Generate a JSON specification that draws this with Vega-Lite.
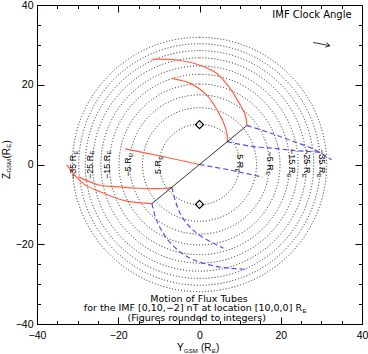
{
 "$schema": "https://vega.github.io/schema/vega-lite/v6.json",
 "width": 325, "height": 319,
 "autosize": {"type": "none"},
 "padding": {"left": 37, "top": 5, "right": 6, "bottom": 30},
 "background": "white",
 "config": {"view": {"stroke": "#000", "strokeWidth": 1}, "font": "Liberation Sans",
   "axis": {"domain": false, "grid": false, "tickColor": "#000", "labelColor": "#000", "labelFont": "Liberation Sans", "labelFontSize": 10.5, "tickWidth": 1, "labelFlush": false, "labelOverlap": false}},
 "datasets": {
  "circles": [{"r":10},{"r":14.1},{"r":17.3},{"r":20},{"r":22.4},{"r":24.5},{"r":26.5},{"r":28.3},{"r":30},{"r":31.6}],
  "red": [
   {"c":"A","i":0,"x":11.7,"y":9.8},{"c":"A","i":1,"x":11.2,"y":12.6},{"c":"A","i":2,"x":10.0,"y":15.0},{"c":"A","i":3,"x":7.5,"y":19.1},{"c":"A","i":4,"x":4.2,"y":22.9},{"c":"A","i":5,"x":0.1,"y":24.9},{"c":"A","i":6,"x":-5.6,"y":26.2},{"c":"A","i":7,"x":-11.8,"y":26.4},
   {"c":"B","i":0,"x":6.83,"y":5.72},{"c":"B","i":1,"x":6.85,"y":7.0},{"c":"B","i":2,"x":6.3,"y":9.5},{"c":"B","i":3,"x":4.6,"y":13.2},{"c":"B","i":4,"x":1.8,"y":17.4},{"c":"B","i":5,"x":-2.3,"y":20.35},{"c":"B","i":6,"x":-6.85,"y":21.6},
   {"c":"O","i":0,"x":0,"y":0},{"c":"O","i":1,"x":-9.1,"y":2.0},{"c":"O","i":2,"x":-18.3,"y":3.9},
   {"c":"C","i":0,"x":-6.83,"y":-5.72},{"c":"C","i":1,"x":-8.1,"y":-5.95},{"c":"C","i":2,"x":-12.2,"y":-6.05},{"c":"C","i":3,"x":-16.3,"y":-5.9},{"c":"C","i":4,"x":-19.6,"y":-5.6},{"c":"C","i":5,"x":-24.5,"y":-5.2},{"c":"C","i":6,"x":-29.8,"y":-3.1},
   {"c":"D","i":0,"x":-11.7,"y":-9.8},{"c":"D","i":1,"x":-17.9,"y":-9.2},{"c":"D","i":2,"x":-24.3,"y":-6.9},{"c":"D","i":3,"x":-28.6,"y":-4.8},{"c":"D","i":4,"x":-32.7,"y":-0.1}
  ],
  "blue": [
   {"c":"A","i":0,"x":11.7,"y":9.8},{"c":"A","i":1,"x":17.4,"y":7.9},{"c":"A","i":2,"x":22.3,"y":6.1},{"c":"A","i":3,"x":28.0,"y":3.9},{"c":"A","i":4,"x":32.5,"y":1.2},
   {"c":"B","i":0,"x":6.83,"y":5.72},{"c":"B","i":1,"x":12.4,"y":4.6},{"c":"B","i":2,"x":17.9,"y":4.1},{"c":"B","i":3,"x":23.5,"y":3.5},{"c":"B","i":4,"x":29.5,"y":3.1},
   {"c":"O","i":0,"x":0,"y":0},{"c":"O","i":1,"x":8,"y":-1.5},{"c":"O","i":2,"x":15.6,"y":-3.2},
   {"c":"C","i":0,"x":-6.83,"y":-5.72},{"c":"C","i":1,"x":-6.0,"y":-8.9},{"c":"C","i":2,"x":-4.8,"y":-12.2},{"c":"C","i":3,"x":-3.2,"y":-14.7},{"c":"C","i":4,"x":-0.7,"y":-17.2},{"c":"C","i":5,"x":2.6,"y":-19.3},{"c":"C","i":6,"x":5.9,"y":-21.0},
   {"c":"D","i":0,"x":-11.7,"y":-9.8},{"c":"D","i":1,"x":-10.6,"y":-13.9},{"c":"D","i":2,"x":-8.1,"y":-18.5},{"c":"D","i":3,"x":-4.8,"y":-21.9},{"c":"D","i":4,"x":-1.5,"y":-23.9},{"c":"D","i":5,"x":3.4,"y":-25.4},{"c":"D","i":6,"x":7.5,"y":-26.0},{"c":"D","i":7,"x":11.6,"y":-26.3}
  ],
  "black": [
   {"c":"L","i":0,"x":-11.7,"y":-9.8},{"c":"L","i":1,"x":11.7,"y":9.8},
   {"c":"S","i":0,"x":28.0,"y":30.6},{"c":"S","i":1,"x":32.1,"y":29.8},
   {"c":"H","i":0,"x":30.97,"y":29.41},{"c":"H","i":1,"x":32.1,"y":29.8},{"c":"H","i":2,"x":31.2,"y":30.59}
  ],
  "diamonds": [{"x":0,"y":10},{"x":0,"y":-10}],
  "texts": [
   {"g":"lm","x":-31.06,"y":-3.66,"t":"−35 R"},{"g":"lm","x":-26.95,"y":-3.66,"t":"−25 R"},{"g":"lm","x":-22.84,"y":-3.66,"t":"−15 R"},{"g":"lm","x":-17.53,"y":-3.03,"t":"−5 R"},{"g":"lm","x":-10.22,"y":-2.37,"t":"5 R"},
   {"g":"ls","x":-30.45,"y":2.51,"t":"E"},{"g":"ls","x":-26.34,"y":2.51,"t":"E"},{"g":"ls","x":-22.23,"y":2.51,"t":"E"},{"g":"ls","x":-16.91,"y":1.88,"t":"E"},{"g":"ls","x":-9.60,"y":1.22,"t":"E"},
   {"g":"rm","x":9.97,"y":2.57,"t":"5 R"},{"g":"rm","x":17.35,"y":3.24,"t":"−5 R"},{"g":"rm","x":22.70,"y":3.86,"t":"−15 R"},{"g":"rm","x":26.39,"y":3.86,"t":"−25 R"},{"g":"rm","x":30.08,"y":3.86,"t":"−35 R"},
   {"g":"rs","x":9.35,"y":-1.02,"t":"E"},{"g":"rs","x":16.74,"y":-1.68,"t":"E"},{"g":"rs","x":22.08,"y":-2.31,"t":"E"},{"g":"rs","x":25.77,"y":-2.31,"t":"E"},{"g":"rs","x":29.46,"y":-2.31,"t":"E"},
   {"g":"vt","x":-47.38,"y":-3.64,"t":"Z"},{"g":"vt","x":-47.38,"y":1.50,"t":"(R"},{"g":"vt","x":-47.38,"y":5.24,"t":")"},
   {"g":"vs","x":-46.77,"y":-2.03,"t":"GSM"},{"g":"vs","x":-46.77,"y":4.19,"t":"E"},
   {"g":"ht","x":-5.54,"y":-46.65,"t":"Y"},{"g":"ht","x":0.37,"y":-46.65,"t":"(R"},{"g":"ht","x":4.06,"y":-46.65,"t":")"},
   {"g":"hs","x":-3.82,"y":-47.15,"t":"GSM"},{"g":"hs","x":3.03,"y":-47.15,"t":"E"},{"g":"hs","x":25.35,"y":-37.29,"t":"E"},
   {"g":"ti","x":27.69,"y":36.67,"t":"IMF Clock Angle"},
   {"g":"hc","x":-0.12,"y":-34.36,"t":"Motion of Flux Tubes"},{"g":"hc","x":-0.69,"y":-39.22,"t":"(Figures rounded to integers)"},
   {"g":"hr","x":25.23,"y":-36.79,"t":"for the IMF [0,10,−2] nT at location [10,0,0] R"}
  ]
 },
 "resolve": {"axis": {"x": "independent", "y": "independent"}},
 "layer": [
  {
   "data": {"name": "circles"},
   "mark": {"type": "arc", "theta": 0, "theta2": 6.2832, "filled": false, "stroke": "#222", "strokeWidth": 1, "strokeDash": [1, 2]},
   "encoding": {"radius": {"field": "r", "type": "quantitative", "stack": null, "scale": {"type": "linear", "domain": [0, 40], "range": [0, {"expr": "(width+height)/4"}]}}}
  },
  {
   "data": {"name": "red"},
   "mark": {"type": "line", "color": "#ff6040", "strokeWidth": 1.2, "interpolate": "catmull-rom"},
   "encoding": {
    "x": {"field": "x", "type": "quantitative", "scale": {"domain": [-40, 40], "nice": false, "zero": false},
      "axis": {"orient": "bottom", "values": [-40, -20, 0, 20, 40], "tickSize": -7, "labelPadding": 13, "title": null}},
    "y": {"field": "y", "type": "quantitative", "scale": {"domain": [-40, 40], "nice": false, "zero": false},
      "axis": {"orient": "left", "values": [-40, -20, 0, 20, 40], "tickSize": -7, "labelPadding": 11, "title": null}},
    "detail": {"field": "c"},
    "order": {"field": "i", "type": "quantitative"}
   }
  },
  {
   "data": {"name": "blue"},
   "mark": {"type": "line", "color": "#5050f0", "strokeWidth": 1.2, "strokeDash": [5, 3], "interpolate": "catmull-rom"},
   "encoding": {
    "x": {"field": "x", "type": "quantitative", "scale": {"domain": [-40, 40], "nice": false, "zero": false},
      "axis": {"orient": "bottom", "values": [-35, -30, -25, -15, -10, -5, 5, 10, 15, 25, 30, 35], "tickSize": -3.5, "labels": false, "title": null}},
    "y": {"field": "y", "type": "quantitative", "scale": {"domain": [-40, 40], "nice": false, "zero": false},
      "axis": {"orient": "left", "values": [-35, -30, -25, -15, -10, -5, 5, 10, 15, 25, 30, 35], "tickSize": -3.5, "labels": false, "title": null}},
    "detail": {"field": "c"},
    "order": {"field": "i", "type": "quantitative"}
   }
  },
  {
   "data": {"name": "black"},
   "mark": {"type": "line", "color": "#000", "strokeWidth": 0.8},
   "encoding": {
    "x": {"field": "x", "type": "quantitative", "scale": {"domain": [-40, 40], "nice": false, "zero": false},
      "axis": {"orient": "top", "values": [-40, -20, 0, 20, 40], "tickSize": -7, "labels": false, "title": null}},
    "y": {"field": "y", "type": "quantitative", "scale": {"domain": [-40, 40], "nice": false, "zero": false},
      "axis": {"orient": "right", "values": [-40, -20, 0, 20, 40], "tickSize": -7, "labels": false, "title": null}},
    "detail": {"field": "c"},
    "order": {"field": "i", "type": "quantitative"}
   }
  },
  {
   "data": {"name": "diamonds"},
   "mark": {"type": "point", "shape": "diamond", "size": 64, "filled": false, "stroke": "#000", "strokeWidth": 1.2, "opacity": 1},
   "encoding": {
    "x": {"field": "x", "type": "quantitative", "scale": {"domain": [-40, 40], "nice": false, "zero": false},
      "axis": {"orient": "top", "values": [-35, -30, -25, -15, -10, -5, 5, 10, 15, 25, 30, 35], "tickSize": -3.5, "labels": false, "title": null}},
    "y": {"field": "y", "type": "quantitative", "scale": {"domain": [-40, 40], "nice": false, "zero": false},
      "axis": {"orient": "right", "values": [-35, -30, -25, -15, -10, -5, 5, 10, 15, 25, 30, 35], "tickSize": -3.5, "labels": false, "title": null}}
   }
  },
  {
   "data": {"name": "texts"}, "transform": [{"filter": "datum.g === 'lm'"}],
   "mark": {"type": "text", "angle": 270, "align": "left", "baseline": "middle", "fontSize": 9, "font": "Liberation Sans", "color": "#000"},
   "encoding": {"x": {"field": "x", "type": "quantitative", "axis": null}, "y": {"field": "y", "type": "quantitative", "axis": null}, "text": {"field": "t"}}
  },
  {
   "data": {"name": "texts"}, "transform": [{"filter": "datum.g === 'ls'"}],
   "mark": {"type": "text", "angle": 270, "align": "left", "baseline": "middle", "fontSize": 6, "font": "Liberation Sans", "color": "#000"},
   "encoding": {"x": {"field": "x", "type": "quantitative", "axis": null}, "y": {"field": "y", "type": "quantitative", "axis": null}, "text": {"field": "t"}}
  },
  {
   "data": {"name": "texts"}, "transform": [{"filter": "datum.g === 'rm'"}],
   "mark": {"type": "text", "angle": 90, "align": "left", "baseline": "middle", "fontSize": 9, "font": "Liberation Sans", "color": "#000"},
   "encoding": {"x": {"field": "x", "type": "quantitative", "axis": null}, "y": {"field": "y", "type": "quantitative", "axis": null}, "text": {"field": "t"}}
  },
  {
   "data": {"name": "texts"}, "transform": [{"filter": "datum.g === 'rs'"}],
   "mark": {"type": "text", "angle": 90, "align": "left", "baseline": "middle", "fontSize": 6, "font": "Liberation Sans", "color": "#000"},
   "encoding": {"x": {"field": "x", "type": "quantitative", "axis": null}, "y": {"field": "y", "type": "quantitative", "axis": null}, "text": {"field": "t"}}
  },
  {
   "data": {"name": "texts"}, "transform": [{"filter": "datum.g === 'vt'"}],
   "mark": {"type": "text", "angle": 270, "align": "left", "baseline": "middle", "fontSize": 10, "font": "Liberation Sans", "color": "#000"},
   "encoding": {"x": {"field": "x", "type": "quantitative", "axis": null}, "y": {"field": "y", "type": "quantitative", "axis": null}, "text": {"field": "t"}}
  },
  {
   "data": {"name": "texts"}, "transform": [{"filter": "datum.g === 'vs'"}],
   "mark": {"type": "text", "angle": 270, "align": "left", "baseline": "middle", "fontSize": 6, "font": "Liberation Sans", "color": "#000"},
   "encoding": {"x": {"field": "x", "type": "quantitative", "axis": null}, "y": {"field": "y", "type": "quantitative", "axis": null}, "text": {"field": "t"}}
  },
  {
   "data": {"name": "texts"}, "transform": [{"filter": "datum.g === 'ht'"}],
   "mark": {"type": "text", "align": "left", "baseline": "alphabetic", "fontSize": 10, "font": "Liberation Sans", "color": "#000"},
   "encoding": {"x": {"field": "x", "type": "quantitative", "axis": null}, "y": {"field": "y", "type": "quantitative", "axis": null}, "text": {"field": "t"}}
  },
  {
   "data": {"name": "texts"}, "transform": [{"filter": "datum.g === 'hs'"}],
   "mark": {"type": "text", "align": "left", "baseline": "alphabetic", "fontSize": 6, "font": "Liberation Sans", "color": "#000"},
   "encoding": {"x": {"field": "x", "type": "quantitative", "axis": null}, "y": {"field": "y", "type": "quantitative", "axis": null}, "text": {"field": "t"}}
  },
  {
   "data": {"name": "texts"}, "transform": [{"filter": "datum.g === 'ti'"}],
   "mark": {"type": "text", "align": "center", "baseline": "alphabetic", "fontSize": 10, "font": "DejaVu Sans", "color": "#000"},
   "encoding": {"x": {"field": "x", "type": "quantitative", "axis": null}, "y": {"field": "y", "type": "quantitative", "axis": null}, "text": {"field": "t"}}
  },
  {
   "data": {"name": "texts"}, "transform": [{"filter": "datum.g === 'hc'"}],
   "mark": {"type": "text", "align": "center", "baseline": "alphabetic", "fontSize": 9.5, "font": "DejaVu Sans", "color": "#000"},
   "encoding": {"x": {"field": "x", "type": "quantitative", "axis": null}, "y": {"field": "y", "type": "quantitative", "axis": null}, "text": {"field": "t"}}
  },
  {
   "data": {"name": "texts"}, "transform": [{"filter": "datum.g === 'hr'"}],
   "mark": {"type": "text", "align": "right", "baseline": "alphabetic", "fontSize": 9.5, "font": "DejaVu Sans", "color": "#000"},
   "encoding": {"x": {"field": "x", "type": "quantitative", "axis": null}, "y": {"field": "y", "type": "quantitative", "axis": null}, "text": {"field": "t"}}
  }
 ]
}
